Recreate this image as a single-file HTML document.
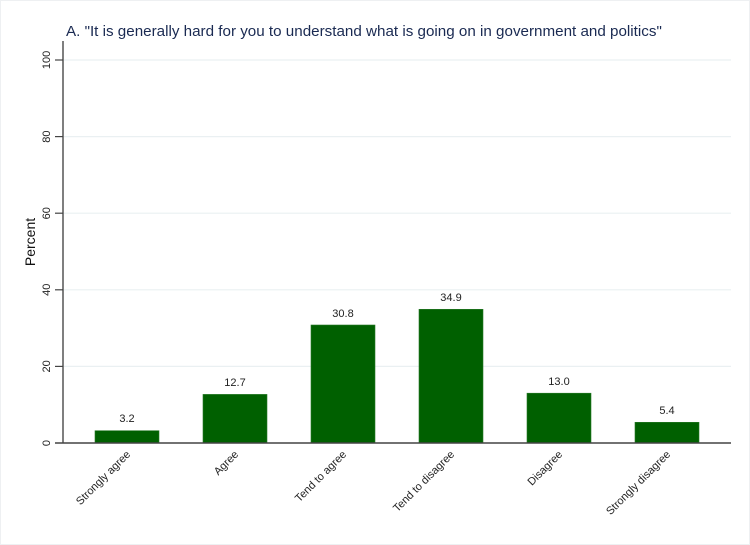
<!DOCTYPE html>
<html><head><meta charset="utf-8"><style>body{margin:0;background:#fff}svg{display:block}</style></head><body>
<svg width="750" height="545" viewBox="0 0 750 545" xmlns="http://www.w3.org/2000/svg" font-family="Liberation Sans, Arial, sans-serif">
<rect x="0.5" y="0.5" width="749" height="544" fill="#fff" stroke="#eef0f2"/>
<text x="66" y="36" font-size="15.2" fill="#1a2a52">A. "It is generally hard for you to understand what is going on in government and politics"</text>
<g stroke="#eaf0f2" stroke-width="1.2">
<line x1="63" y1="60" x2="731" y2="60"/><line x1="63" y1="136.6" x2="731" y2="136.6"/><line x1="63" y1="213.2" x2="731" y2="213.2"/><line x1="63" y1="289.8" x2="731" y2="289.8"/><line x1="63" y1="366.4" x2="731" y2="366.4"/>
</g>
<g fill="#006000" stroke="#2a7a2a" stroke-width="0.6">
<rect x="95" y="430.7" width="64" height="12.3"/>
<rect x="203" y="394.4" width="64" height="48.6"/>
<rect x="311" y="325.0" width="64" height="118"/>
<rect x="419" y="309.3" width="64" height="133.7"/>
<rect x="527" y="393.2" width="64" height="49.8"/>
<rect x="635" y="422.3" width="64" height="20.7"/>
</g>
<line x1="63" y1="41" x2="63" y2="443" stroke="#555" stroke-width="1.5"/>
<line x1="55" y1="443" x2="731" y2="443" stroke="#444" stroke-width="1.5"/>
<g stroke="#444" stroke-width="1.2"><line x1="55" y1="60" x2="63" y2="60"/><line x1="55" y1="136.6" x2="63" y2="136.6"/><line x1="55" y1="213.2" x2="63" y2="213.2"/><line x1="55" y1="289.8" x2="63" y2="289.8"/><line x1="55" y1="366.4" x2="63" y2="366.4"/></g>
<g font-size="11" fill="#222" text-anchor="middle">
<text transform="translate(50,60) rotate(-90)">100</text>
<text transform="translate(50,136.6) rotate(-90)">80</text>
<text transform="translate(50,213.2) rotate(-90)">60</text>
<text transform="translate(50,289.8) rotate(-90)">40</text>
<text transform="translate(50,366.4) rotate(-90)">20</text>
<text transform="translate(50,443) rotate(-90)">0</text>
</g>
<text transform="translate(35,242) rotate(-90)" font-size="14" fill="#111" text-anchor="middle">Percent</text>
<g font-size="11" fill="#222" text-anchor="middle">
<text x="127" y="422">3.2</text><text x="235" y="386">12.7</text><text x="343" y="317">30.8</text><text x="451" y="301">34.9</text><text x="559" y="385">13.0</text><text x="667" y="414">5.4</text>
</g>
<g font-size="11" fill="#222" text-anchor="end">
<text transform="translate(131,455) rotate(-45)">Strongly agree</text>
<text transform="translate(239,455) rotate(-45)">Agree</text>
<text transform="translate(347,455) rotate(-45)">Tend to agree</text>
<text transform="translate(455,455) rotate(-45)">Tend to disagree</text>
<text transform="translate(563,455) rotate(-45)">Disagree</text>
<text transform="translate(671,455) rotate(-45)">Strongly disagree</text>
</g>
</svg>
</body></html>
